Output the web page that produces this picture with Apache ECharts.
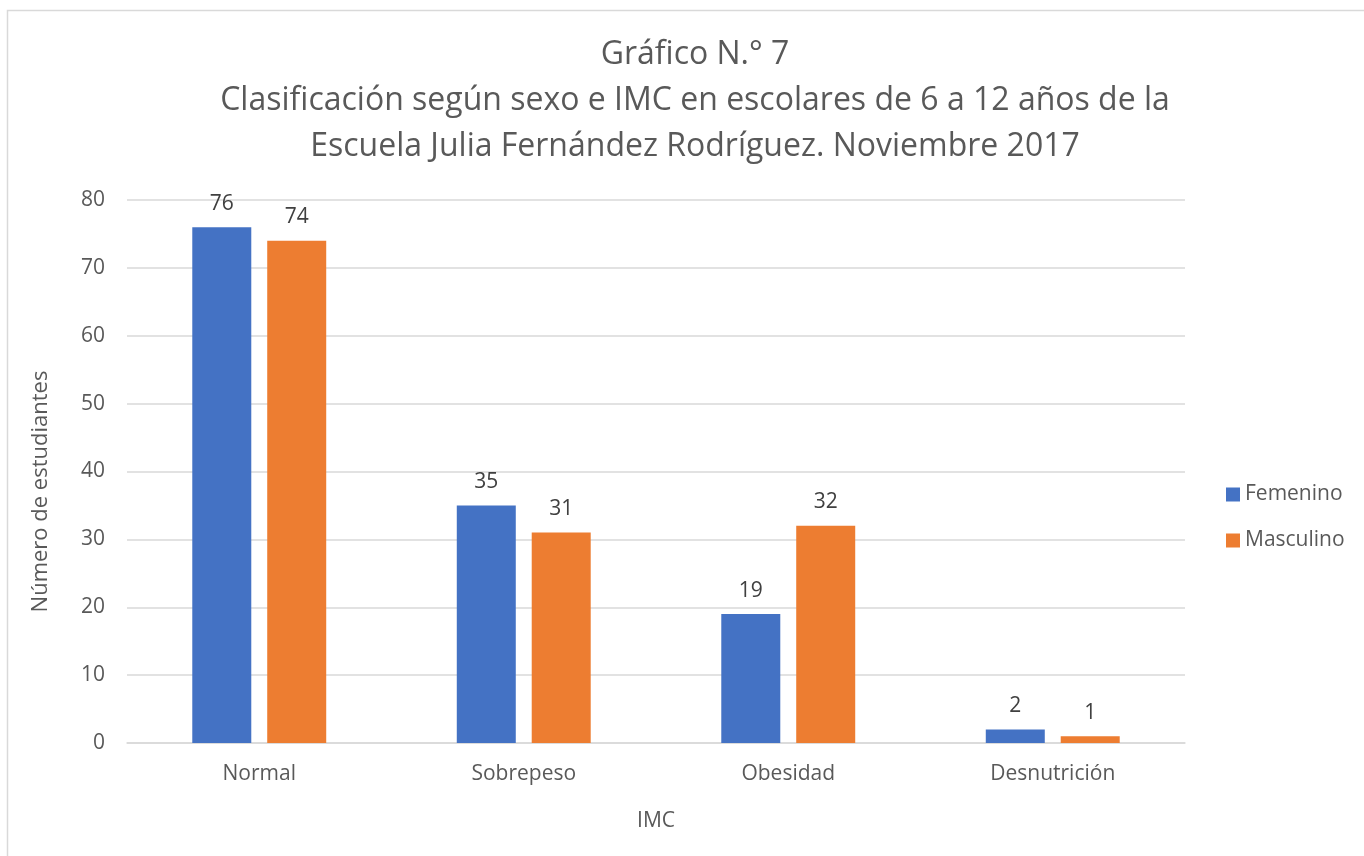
<!DOCTYPE html>
<html><head><meta charset="utf-8">
<script src="https://cdn.jsdelivr.net/npm/echarts@6/dist/echarts.min.js"></script>
<style>html,body{margin:0;padding:0;background:#fff}#c{width:1364px;height:856px}</style>
</head><body><div id="c"></div>
<script>
const categories = ['Normal', 'Sobrepeso', 'Obesidad', 'Desnutrición'];
const femenino = [76, 35, 19, 2];
const masculino = [74, 31, 32, 1];
const seriesNames = ['Femenino', 'Masculino'];
const titleText = 'Gráfico N.° 7\nClasificación según sexo e IMC en escolares de 6 a 12 años de la\nEscuela Julia Fernández Rodríguez. Noviembre 2017';

const FONT = '"Open Sans", "Noto Sans", sans-serif';
const FS = 21;
const chart = echarts.init(document.getElementById('c'));
const labelStyle = {show: true, position: 'top', distance: 13, color: '#404040', fontSize: FS, fontFamily: FONT};
chart.setOption({
  animation: false,
  textStyle: {fontFamily: FONT},
  graphic: [{type: 'rect', shape: {x: 7.5, y: 10.5, width: 1400, height: 900}, style: {fill: 'none', stroke: '#d9d9d9', lineWidth: 1.5}, silent: true}],
  title: {
    text: titleText, left: 690, textAlign: 'center', top: 27,
    textStyle: {fontSize: 32, fontWeight: 'normal', color: '#595959', lineHeight: 46, fontFamily: FONT}
  },
  legend: {
    orient: 'vertical', left: 1226, top: 484, padding: 0, itemWidth: 14, itemHeight: 14, itemGap: 25,
    icon: 'rect', textStyle: {fontSize: FS, color: '#595959', fontFamily: FONT}, data: seriesNames
  },
  grid: {left: 127, right: 1364 - 1185, top: 200, bottom: 856 - 743, containLabel: false},
  xAxis: {
    type: 'category', data: categories,
    name: 'IMC', nameLocation: 'middle', nameGap: 68,
    nameTextStyle: {fontSize: FS, color: '#595959', fontFamily: FONT},
    axisLine: {lineStyle: {color: '#d9d9d9', width: 1.5}}, axisTick: {show: false},
    axisLabel: {fontSize: FS, color: '#595959', margin: 21, fontFamily: FONT}
  },
  yAxis: {
    type: 'value', min: 0, max: 80, interval: 10,
    name: 'Número de estudiantes', nameLocation: 'middle', nameGap: 75, nameRotate: 90,
    nameTextStyle: {fontSize: 22, color: '#595959', fontFamily: FONT, padding: [0, 40, 0, 0]},
    axisLine: {show: false}, axisTick: {show: false},
    axisLabel: {fontSize: FS, color: '#595959', margin: 22, fontFamily: FONT},
    splitLine: {lineStyle: {color: '#d9d9d9', width: 1.5}}
  },
  series: [
    {name: seriesNames[0], type: 'bar', data: femenino, barWidth: 59, barGap: '27%', itemStyle: {color: '#4472C4'}, label: labelStyle},
    {name: seriesNames[1], type: 'bar', data: masculino, barWidth: 59, barGap: '27%', itemStyle: {color: '#ED7D31'}, label: labelStyle}
  ]
});
</script></body></html>
